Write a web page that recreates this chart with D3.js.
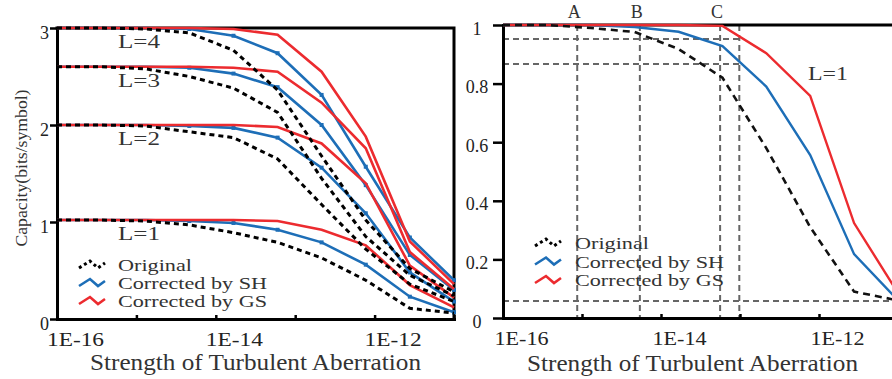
<!DOCTYPE html>
<html>
<head>
<meta charset="utf-8">
<script src="https://cdn.jsdelivr.net/npm/d3@7"></script>
<style>
body { margin: 0; background: #fff; }
svg { display: block; }
</style>
</head>
<body>
<div id="chart"></div>
<script>
// turbulence strength of the simulated points
var strength = [1e-16, 3.6e-16, 1.29e-15, 4.64e-15, 1.67e-14, 6.0e-14, 2.15e-13, 7.74e-13, 2.78e-12, 1e-11];
var xTicks = [1e-16, 1e-15, 1e-14, 1e-13, 1e-12, 1e-11];
var xLabels = {"1e-16": "1E-16", "1e-14": "1E-14", "1e-12": "1E-12"};

// left panel: capacity (bits/symbol) for L=1..4
var orig1 = [1.02, 1.02, 1.01, 0.97, 0.89, 0.79, 0.63, 0.40, 0.11, 0.06];
var orig2 = [2.0, 2.0, 1.99, 1.93, 1.87, 1.65, 1.18, 0.72, 0.36, 0.18];
var orig3 = [2.6, 2.6, 2.58, 2.5, 2.38, 2.13, 1.45, 0.85, 0.45, 0.24];
var orig4 = [3.0, 3.0, 2.99, 2.95, 2.77, 2.36, 1.68, 1.02, 0.52, 0.28];
var sh1 = [1.02, 1.02, 1.02, 1.01, 0.99, 0.92, 0.79, 0.56, 0.23, 0.07];
var sh2 = [2.0, 2.0, 2.0, 1.99, 1.97, 1.87, 1.56, 1.09, 0.48, 0.18];
var sh3 = [2.6, 2.6, 2.6, 2.59, 2.53, 2.39, 2.0, 1.38, 0.66, 0.30];
var sh4 = [3.0, 3.0, 3.0, 2.99, 2.92, 2.74, 2.31, 1.57, 0.84, 0.40];
var gs1 = [1.02, 1.02, 1.02, 1.02, 1.02, 1.01, 0.92, 0.76, 0.35, 0.12];
var gs2 = [2.0, 2.0, 2.0, 2.0, 2.0, 1.98, 1.81, 1.40, 0.55, 0.22];
var gs3 = [2.6, 2.6, 2.6, 2.6, 2.59, 2.55, 2.23, 1.76, 0.69, 0.31];
var gs4 = [3.0, 3.0, 3.0, 3.0, 2.99, 2.93, 2.55, 1.88, 0.80, 0.36];
var levelLabels = ["L=1", "L=2", "L=3", "L=4"];
var levelLabelY = [1.02, 2.0, 2.6, 3.0];

// right panel: normalized capacity, L=1
var rOrig = [1, 1, 0.99, 0.976, 0.918, 0.82, 0.58, 0.31, 0.09, 0.06];
var rSh = [1, 1, 1, 0.993, 0.977, 0.928, 0.79, 0.556, 0.218, 0.06];
var rGs = [1, 1, 1, 1, 1, 0.997, 0.904, 0.758, 0.324, 0.085];
var rTicks = [0, 0.2, 0.4, 0.6, 0.8, 1];

// guide lines in the right panel
var guideX = [8.7e-16, 5.4e-15, 5.6e-14, 9.8e-14];
var guideXNames = ["A", "B", "C", ""];
var guideY = [0.952, 0.867];
var floorY = 0.058;

var legendNames = ["Original", "Corrected by SH", "Corrected by GS"];

var W = 892, H = 379;
var red = "#ec2b2f", blue = "#1d6eb7", ink = "#222";
var serif = "'Liberation Serif', 'Times New Roman', serif";

var svg = d3.select("#chart")
  .append("svg")
  .attr("width", W)
  .attr("height", H);

var xL = d3.scaleLog().domain([1e-16, 1e-11]).range([57, 454]);
var yL = d3.scaleLinear().domain([0, 3]).range([319, 28]);
var xR = d3.scaleLog().domain([1e-16, 1e-11]).range([503, 898]);
var yR = d3.scaleLinear().domain([0, 1]).range([318, 25]);

function fmtX(d) { return xLabels[String(d)] || ""; }

function styleText(sel, size) {
  sel.attr("font-family", serif).attr("font-size", size).attr("fill", ink);
}

// ---------- left panel ----------
var gxL = svg.append("g")
  .attr("transform", "translate(0," + yL(0) + ")")
  .call(d3.axisBottom(xL).tickValues(xTicks).tickSize(-4).tickSizeOuter(0).tickFormat(fmtX));
gxL.selectAll("text").attr("y", 27).attr("dy", 0).attr("dx", 18)
  .call(styleText, 18)
  .filter(function (d) { return fmtX(d) !== ""; })
  .attr("textLength", 57).attr("lengthAdjust", "spacingAndGlyphs");

var gyL = svg.append("g")
  .attr("transform", "translate(" + xL(1e-16) + ",0)")
  .call(d3.axisLeft(yL).tickValues([0, 1, 2, 3]).tickSize(7).tickSizeOuter(0).tickFormat(d3.format("d")));
gyL.selectAll("text").attr("x", -8).attr("dy", 0).attr("y", 10).call(styleText, 18);

[gxL, gyL].forEach(function (g) {
  g.select(".domain").attr("stroke", "#000").attr("stroke-width", 3).attr("stroke-linecap", "square");
  g.selectAll(".tick line").attr("stroke", "#000").attr("stroke-width", 2.5);
});

// frame top + right
svg.append("path")
  .attr("d", "M" + xL(1e-16) + "," + yL(3) + "H" + xL(1e-11) + "V" + yL(0))
  .attr("fill", "none").attr("stroke", "#000").attr("stroke-width", 3)
  .attr("stroke-linecap", "square");

var lineL = d3.line()
  .x(function (d, i) { return xL(strength[i]); })
  .y(function (d) { return yL(d); });

[sh1, sh2, sh3, sh4].forEach(function (s) {
  svg.append("path").datum(s)
    .attr("fill", "none").attr("stroke", blue).attr("stroke-width", 2.6)
    .attr("d", lineL);
  // markers show only where the curve leaves the plateau
  svg.append("g").selectAll("rect").data(s.slice(3)).enter().append("rect")
    .attr("x", function (d, i) { return xL(strength[i + 3]) - 2; })
    .attr("y", function (d) { return yL(d) - 2; })
    .attr("width", 4).attr("height", 4)
    .attr("fill", blue);
});
[gs1, gs2, gs3, gs4].forEach(function (s) {
  svg.append("path").datum(s)
    .attr("fill", "none").attr("stroke", red).attr("stroke-width", 2.6)
    .attr("d", lineL);
});
[orig1, orig2, orig3, orig4].forEach(function (s) {
  svg.append("path").datum(s)
    .attr("fill", "none").attr("stroke", "#000").attr("stroke-width", 3)
    .attr("stroke-dasharray", "5,4")
    .attr("d", lineL);
});

// L labels
svg.append("g").selectAll("text").data(levelLabels).enter().append("text")
  .attr("x", 118)
  .attr("y", function (d, i) { return yL(levelLabelY[i]) + 20; })
  .attr("textLength", 42).attr("lengthAdjust", "spacingAndGlyphs")
  .text(function (d) { return d; })
  .call(styleText, 19).attr("fill", "#333");

// axis titles
svg.append("text").attr("x", 90).attr("y", 370)
  .attr("textLength", 331).attr("lengthAdjust", "spacingAndGlyphs")
  .text("Strength of Turbulent Aberration").call(styleText, 23).attr("fill", "#333");
svg.append("text")
  .attr("transform", "translate(27,168) rotate(-90)")
  .attr("text-anchor", "middle")
  .attr("textLength", 157).attr("lengthAdjust", "spacingAndGlyphs")
  .text("Capacity(bits/symbol)").call(styleText, 16).attr("fill", "#333");

// legend helper: zigzag symbols
var zig = [[0, 0], [11, -7], [19, 0], [26, -5]];
function legend(x0, y0, step, tx) {
  var styles = [
    {stroke: "#000", dash: "3,3", w: 3},
    {stroke: blue, dash: null, w: 2.6},
    {stroke: red, dash: null, w: 2.6}
  ];
  legendNames.forEach(function (name, i) {
    var y = y0 + i * step;
    svg.append("path")
      .datum(zig)
      .attr("d", d3.line().x(function (p) { return x0 + p[0]; }).y(function (p) { return y - 3 + p[1]; }))
      .attr("fill", "none")
      .attr("stroke", styles[i].stroke)
      .attr("stroke-width", styles[i].w)
      .attr("stroke-dasharray", styles[i].dash);
    svg.append("text").attr("x", tx).attr("y", y)
      .attr("textLength", i === 0 ? 74 : 149).attr("lengthAdjust", "spacingAndGlyphs")
      .text(name).call(styleText, 17).attr("fill", "#333");
  });
}
legend(79, 271, 18, 118);

// ---------- right panel ----------
// guides
svg.append("g").selectAll("line").data(guideX).enter().append("line")
  .attr("x1", function (d) { return xR(d); }).attr("x2", function (d) { return xR(d); })
  .attr("y1", yR(1)).attr("y2", yR(0))
  .attr("stroke", "#666").attr("stroke-width", 2).attr("stroke-dasharray", "6,4");
svg.append("g").selectAll("line").data(guideY).enter().append("line")
  .attr("x1", xR(1e-16)).attr("x2", xR(guideX[3]))
  .attr("y1", function (d) { return yR(d); }).attr("y2", function (d) { return yR(d); })
  .attr("stroke", "#666").attr("stroke-width", 2).attr("stroke-dasharray", "6,4");
svg.append("line")
  .attr("x1", xR(1e-16)).attr("x2", W)
  .attr("y1", yR(floorY)).attr("y2", yR(floorY))
  .attr("stroke", "#666").attr("stroke-width", 2).attr("stroke-dasharray", "6,4");
svg.append("g").selectAll("text").data(guideXNames).enter().append("text")
  .attr("x", function (d) { return xR(guideX[guideXNames.indexOf(d)]) - 3; })
  .attr("y", 18)
  .attr("text-anchor", "middle")
  .text(function (d) { return d; })
  .call(styleText, 18).attr("fill", "#333");

var gxR = svg.append("g")
  .attr("transform", "translate(0," + yR(0) + ")")
  .call(d3.axisBottom(xR).tickValues(xTicks).tickSize(-4).tickSizeOuter(0).tickFormat(fmtX));
gxR.selectAll("text").attr("y", 27).attr("dy", 0).attr("dx", 18)
  .call(styleText, 18)
  .filter(function (d) { return fmtX(d) !== ""; })
  .attr("textLength", 54).attr("lengthAdjust", "spacingAndGlyphs");

var gyR = svg.append("g")
  .attr("transform", "translate(" + xR(1e-16) + ",0)")
  .call(d3.axisLeft(yR).tickValues(rTicks).tickSize(10).tickSizeOuter(0).tickFormat(function (d) { return String(d); }));
gyR.selectAll("text").attr("x", -26).attr("text-anchor", "middle").attr("dy", 0).attr("y", 9)
  .call(styleText, 18);

[gxR, gyR].forEach(function (g) {
  g.select(".domain").attr("stroke", "#000").attr("stroke-width", 3).attr("stroke-linecap", "square");
  g.selectAll(".tick line").attr("stroke", "#000").attr("stroke-width", 2.5);
});
svg.append("line")
  .attr("x1", xR(1e-16)).attr("x2", W).attr("y1", yR(1)).attr("y2", yR(1))
  .attr("stroke", "#000").attr("stroke-width", 3);

var lineR = d3.line()
  .x(function (d, i) { return xR(strength[i]); })
  .y(function (d) { return yR(d); });

svg.append("path").datum(rSh)
  .attr("fill", "none").attr("stroke", blue).attr("stroke-width", 2.4).attr("d", lineR);
svg.append("path").datum(rGs)
  .attr("fill", "none").attr("stroke", red).attr("stroke-width", 2.4).attr("d", lineR);
svg.append("path").datum(rOrig)
  .attr("fill", "none").attr("stroke", "#111").attr("stroke-width", 2.6)
  .attr("stroke-dasharray", "7,5").attr("d", lineR);

svg.append("text").attr("x", 808).attr("y", 80)
  .attr("textLength", 40).attr("lengthAdjust", "spacingAndGlyphs")
  .text("L=1").call(styleText, 19).attr("fill", "#333");

svg.append("text").attr("x", 527).attr("y", 371)
  .attr("textLength", 331).attr("lengthAdjust", "spacingAndGlyphs")
  .text("Strength of Turbulent Aberration").call(styleText, 23).attr("fill", "#333");

legend(535, 249, 18.5, 575);
</script>
</body>
</html>
